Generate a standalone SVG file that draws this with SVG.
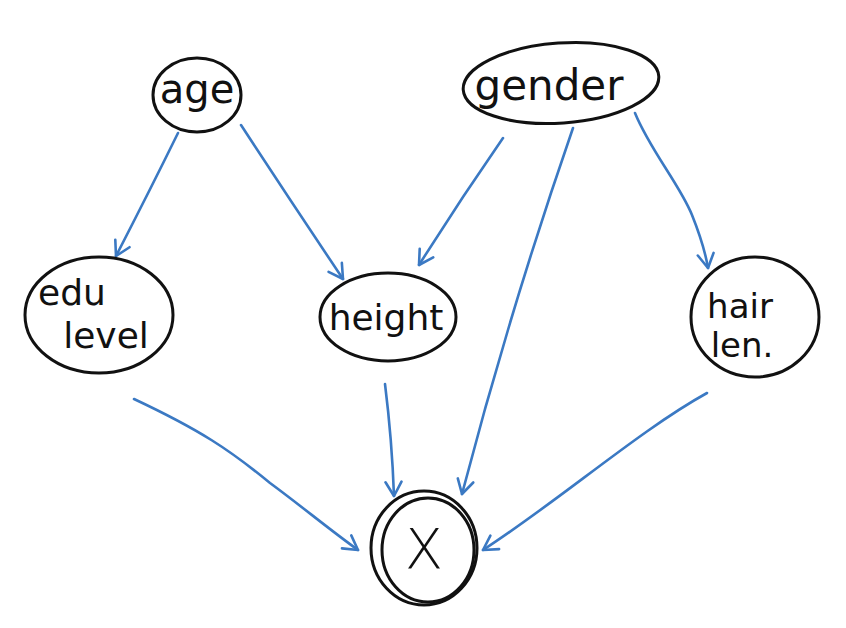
<svg xmlns="http://www.w3.org/2000/svg" width="846" height="628" viewBox="0 0 846 628">
<style>
.node{fill:none;stroke:#111;stroke-width:3;stroke-linecap:round}
.lbl{font-family:"DejaVu Sans","Liberation Sans",sans-serif;fill:#111;text-anchor:middle}
.edge{fill:none;stroke:#3b79c3;stroke-width:2.6;stroke-linecap:round;stroke-linejoin:round}
</style>
<defs>
<marker id="ah" viewBox="-16 -10 20 20" refX="0" refY="0" markerWidth="20" markerHeight="20" markerUnits="userSpaceOnUse" orient="auto">
<path d="M -14 -8 L 0 0 L -14 8" fill="none" stroke="#3b79c3" stroke-width="2.6" stroke-linecap="round" stroke-linejoin="round"/>
</marker>
</defs>
<rect width="846" height="628" fill="#fff"/>
<g id="edges">
<path class="edge" marker-end="url(#ah)" d="M 178 133 Q 150 190 116 256"/>
<path class="edge" marker-end="url(#ah)" d="M 241 125 Q 290 200 343 279"/>
<path class="edge" marker-end="url(#ah)" d="M 503 138 Q 460 200 419 265"/>
<path class="edge" marker-end="url(#ah)" d="M 573 128 Q 510 310 462 494"/>
<path class="edge" marker-end="url(#ah)" d="M 635 113 C 650 150 680 185 692 215 C 700 235 705 250 708 268"/>
<path class="edge" marker-end="url(#ah)" d="M 134 399 C 200 430 230 450 270 483 C 300 505 330 530 358 550"/>
<path class="edge" marker-end="url(#ah)" d="M 385 384 Q 392 440 394 496"/>
<path class="edge" marker-end="url(#ah)" d="M 707 393 C 640 430 560 500 483 550"/>
</g>
<g id="age">
<ellipse class="node" cx="197" cy="95" rx="44" ry="37"/>
<text class="lbl" x="197" y="103" font-size="40">age</text>
</g>
<g id="gender">
<ellipse class="node" cx="561" cy="83" rx="98" ry="40" transform="rotate(-4 561 83)"/>
<text class="lbl" x="549" y="100" font-size="42">gender</text>
</g>
<g id="edu">
<ellipse class="node" cx="99" cy="315" rx="74" ry="58"/>
<text class="lbl" x="72" y="305" font-size="36">edu</text>
<text class="lbl" x="106" y="348" font-size="36">level</text>
</g>
<g id="height">
<ellipse class="node" cx="388" cy="317" rx="68" ry="44"/>
<text class="lbl" x="386" y="330" font-size="36">height</text>
</g>
<g id="hair">
<ellipse class="node" cx="755" cy="317" rx="64" ry="60"/>
<text class="lbl" x="740" y="318" font-size="34">hair</text>
<text class="lbl" x="742" y="357" font-size="34">len.</text>
</g>
<g id="X">
<ellipse class="node" cx="424" cy="548" rx="53" ry="57"/>
<ellipse class="node" cx="428" cy="550" rx="46" ry="52"/>
<text class="lbl" x="424" y="568" font-size="56" font-weight="300">X</text>
</g>
</svg>
